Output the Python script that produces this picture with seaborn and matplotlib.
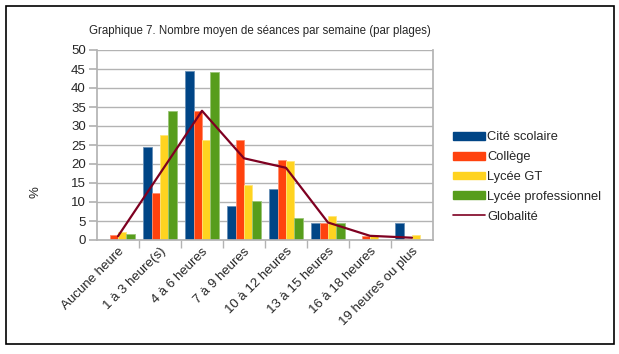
import matplotlib
matplotlib.use("Agg")
import matplotlib.pyplot as plt
import seaborn as sns
import pandas as pd
from matplotlib.patches import Patch, Rectangle
from matplotlib.lines import Line2D
from matplotlib import font_manager

categories = ["Aucune heure", "1 à 3 heure(s)", "4 à 6 heures", "7 à 9 heures",
              "10 à 12 heures", "13 à 15 heures", "16 à 18 heures", "19 heures ou plus"]
cite = [0.0, 24.5, 44.5, 8.9, 13.3, 4.5, 0.0, 4.5]
college = [1.2, 12.5, 34.0, 26.2, 21.0, 4.5, 1.0, 0.3]
lycee_gt = [2.0, 27.6, 26.2, 14.5, 20.8, 6.2, 1.2, 1.2]
lycee_pro = [1.5, 33.9, 44.2, 10.3, 5.8, 4.5, 0.0, 0.0]
globalite = [1.0, 17.5, 34.0, 21.5, 19.0, 4.6, 1.1, 0.6]
series_names = ["Cité scolaire", "Collège", "Lycée GT", "Lycée professionnel"]
colors = ["#004586", "#ff420e", "#ffd320", "#579d1c"]
line_color = "#7e0021"
title = "Graphique 7. Nombre moyen de séances par semaine (par plages)"

sns.set_theme(style="white")
plt.rcParams['font.family'] = ['Liberation Sans', 'DejaVu Sans']

names = {f.name for f in font_manager.fontManager.ttflist}
title_family = ['Liberation Sans Narrow', 'DejaVu Sans'] if 'Liberation Sans Narrow' in names else ['Liberation Sans', 'DejaVu Sans']
title_size = 10 if 'Liberation Sans Narrow' in names else 8.3

rows = []
for name, vals in zip(series_names, [cite, college, lycee_gt, lycee_pro]):
    for c, v in zip(categories, vals):
        rows.append({"cat": c, "serie": name, "val": v})
df = pd.DataFrame(rows)

fig = plt.figure(figsize=(6.19, 3.54), dpi=100)
ax = fig.add_axes([97/619, 1-240/354, 336/619, 190/354])

sns.barplot(data=df, x="cat", y="val", hue="serie", order=categories,
            hue_order=series_names, palette=colors, width=0.8, ax=ax,
            saturation=1, legend=False, linewidth=0.6)
for p in ax.patches:
    fc = p.get_facecolor()
    p.set_edgecolor((min(1, fc[0]*0.6+0.4), min(1, fc[1]*0.6+0.4), min(1, fc[2]*0.6+0.4), 1))

gdf = pd.DataFrame({"cat": categories, "val": globalite})
sns.lineplot(data=gdf, x="cat", y="val", sort=False, color=line_color, linewidth=1.6, ax=ax, zorder=5)

ax.set_xlim(-0.5, len(categories)-0.5)
ax.set_ylim(0, 50)
ax.set_yticks(range(0, 51, 5))
ax.yaxis.grid(True, color="#b3b3b3", linewidth=1)
ax.set_axisbelow(True)
ax.spines["top"].set_visible(False)
ax.spines["left"].set_color("#b3b3b3")
ax.spines["right"].set_color("#b3b3b3")
ax.spines["bottom"].set_color("#b3b3b3")
ax.tick_params(axis="y", length=6, color="#b3b3b3", labelsize=9.5, pad=2, left=True)
ax.set_xticks([i - 0.5 for i in range(1, len(categories))], minor=True)
ax.tick_params(axis="x", which="major", length=0, labelsize=9.5, pad=4)
ax.tick_params(axis="x", which="minor", length=6, color="#b3b3b3", bottom=True)
ax.set_xticks(range(len(categories)))
ax.set_xticklabels(categories, rotation=45, ha="right", rotation_mode="anchor")
ax.set_xlabel("")
ax.set_ylabel("%", fontsize=9.5)
ax.yaxis.set_label_coords(-0.165, 0.25)

fig.text(260/619, 1-31/354, title, ha="center", va="center", fontsize=title_size,
         family=title_family)

handles = [Patch(facecolor=c, edgecolor=c, label=n) for c, n in zip(colors, series_names)]
handles.append(Line2D([0], [0], color=line_color, linewidth=1.2, label="Globalité"))
fig.legend(handles=handles, loc="center left", bbox_to_anchor=(448/619, 1-177/354),
           frameon=False, fontsize=9.3, handlelength=2.5, handleheight=0.55,
           handletextpad=0.15, labelspacing=0.6, borderaxespad=0)

fig.patches.append(Rectangle((6/619, 1-344/354), 608/619, 338/354, transform=fig.transFigure,
                             fill=False, edgecolor="black", linewidth=1.2))
fig.savefig("out.png", dpi=100)
